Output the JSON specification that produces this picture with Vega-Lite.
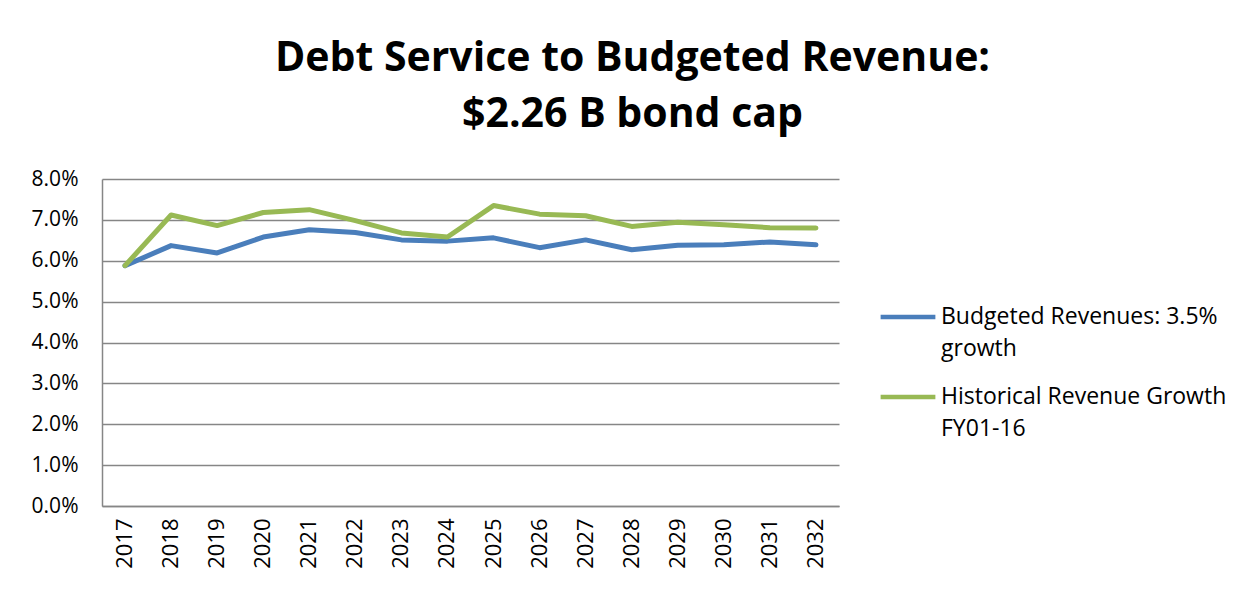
{
  "$schema": "https://vega.github.io/schema/vega-lite/v6.json",
  "width": 737,
  "height": 327,
  "autosize": {"type": "none"},
  "padding": {"left": 102, "top": 179, "right": 411, "bottom": 85},
  "background": "white",
  "title": {
    "text": ["Debt Service to Budgeted Revenue:", "$2.26 B bond cap"],
    "font": "Open Sans",
    "fontWeight": "bold",
    "fontSize": 41,
    "color": "black",
    "lineHeight": 56,
    "anchor": "middle",
    "frame": "group",
    "dx": 162,
    "offset": 32
  },
  "data": {
    "values": [
      {"year": "2017", "series": "Budgeted  Revenues: 3.5% growth", "value": 0.0588},
      {"year": "2018", "series": "Budgeted  Revenues: 3.5% growth", "value": 0.0637},
      {"year": "2019", "series": "Budgeted  Revenues: 3.5% growth", "value": 0.0619},
      {"year": "2020", "series": "Budgeted  Revenues: 3.5% growth", "value": 0.0658},
      {"year": "2021", "series": "Budgeted  Revenues: 3.5% growth", "value": 0.0676},
      {"year": "2022", "series": "Budgeted  Revenues: 3.5% growth", "value": 0.0669},
      {"year": "2023", "series": "Budgeted  Revenues: 3.5% growth", "value": 0.0651},
      {"year": "2024", "series": "Budgeted  Revenues: 3.5% growth", "value": 0.0648},
      {"year": "2025", "series": "Budgeted  Revenues: 3.5% growth", "value": 0.0656},
      {"year": "2026", "series": "Budgeted  Revenues: 3.5% growth", "value": 0.0632},
      {"year": "2027", "series": "Budgeted  Revenues: 3.5% growth", "value": 0.0651},
      {"year": "2028", "series": "Budgeted  Revenues: 3.5% growth", "value": 0.0627},
      {"year": "2029", "series": "Budgeted  Revenues: 3.5% growth", "value": 0.0638},
      {"year": "2030", "series": "Budgeted  Revenues: 3.5% growth", "value": 0.0639},
      {"year": "2031", "series": "Budgeted  Revenues: 3.5% growth", "value": 0.0646},
      {"year": "2032", "series": "Budgeted  Revenues: 3.5% growth", "value": 0.0639},
      {"year": "2017", "series": "Historical Revenue Growth FY01-16", "value": 0.0588},
      {"year": "2018", "series": "Historical Revenue Growth FY01-16", "value": 0.0712},
      {"year": "2019", "series": "Historical Revenue Growth FY01-16", "value": 0.0686},
      {"year": "2020", "series": "Historical Revenue Growth FY01-16", "value": 0.0718},
      {"year": "2021", "series": "Historical Revenue Growth FY01-16", "value": 0.0725},
      {"year": "2022", "series": "Historical Revenue Growth FY01-16", "value": 0.0698},
      {"year": "2023", "series": "Historical Revenue Growth FY01-16", "value": 0.0668},
      {"year": "2024", "series": "Historical Revenue Growth FY01-16", "value": 0.0658},
      {"year": "2025", "series": "Historical Revenue Growth FY01-16", "value": 0.0735},
      {"year": "2026", "series": "Historical Revenue Growth FY01-16", "value": 0.0714},
      {"year": "2027", "series": "Historical Revenue Growth FY01-16", "value": 0.0710},
      {"year": "2028", "series": "Historical Revenue Growth FY01-16", "value": 0.0684},
      {"year": "2029", "series": "Historical Revenue Growth FY01-16", "value": 0.0694},
      {"year": "2030", "series": "Historical Revenue Growth FY01-16", "value": 0.0688},
      {"year": "2031", "series": "Historical Revenue Growth FY01-16", "value": 0.0681},
      {"year": "2032", "series": "Historical Revenue Growth FY01-16", "value": 0.0680}
    ]
  },
  "mark": {"type": "line", "strokeWidth": 5, "strokeCap": "round", "strokeJoin": "round"},
  "encoding": {
    "x": {
      "field": "year",
      "type": "ordinal",
      "scale": {"type": "band", "paddingInner": 0, "paddingOuter": 0},
      "axis": {
        "title": null,
        "labelAngle": -90,
        "labelAlign": "right",
        "labelBaseline": "middle",
        "labelFont": "Open Sans",
        "labelFontSize": 22,
        "labelColor": "black",
        "labelPadding": 12,
        "ticks": false,
        "grid": false,
        "domainColor": "#868686",
        "domainWidth": 1.5
      }
    },
    "y": {
      "field": "value",
      "type": "quantitative",
      "scale": {"domain": [0, 0.08], "nice": false},
      "axis": {
        "title": null,
        "format": ".1%",
        "values": [0, 0.01, 0.02, 0.03, 0.04, 0.05, 0.06, 0.07, 0.08],
        "labelFont": "Open Sans",
        "labelFontSize": 21,
        "labelColor": "black",
        "labelPadding": 24,
        "ticks": false,
        "grid": true,
        "gridColor": "#868686",
        "gridWidth": 1.5,
        "domainColor": "#868686",
        "domainWidth": 1.5
      }
    },
    "color": {
      "field": "series",
      "type": "nominal",
      "scale": {
        "domain": ["Budgeted  Revenues: 3.5% growth", "Historical Revenue Growth FY01-16"],
        "range": ["#4A7EBB", "#98B954"]
      },
      "legend": {
        "title": null,
        "orient": "none",
        "legendX": 776,
        "legendY": 108,
        "padding": 0,
        "symbolType": "stroke",
        "symbolSize": 3000,
        "symbolStrokeWidth": 4.5,
        "labelFont": "Open Sans",
        "labelFontSize": 23,
        "labelColor": "black",
        "labelLimit": 400,
        "labelBaseline": "middle",
        "labelOffset": 3,
        "labelExpr": "datum.label == 'Budgeted  Revenues: 3.5% growth' ? ['Budgeted  Revenues: 3.5%', 'growth'] : ['Historical Revenue Growth', 'FY01-16']",
        "rowPadding": 6
      }
    }
  },
  "config": {
    "view": {"stroke": null},
    "style": {"guide-label": {"lineHeight": 32}}
  }
}
